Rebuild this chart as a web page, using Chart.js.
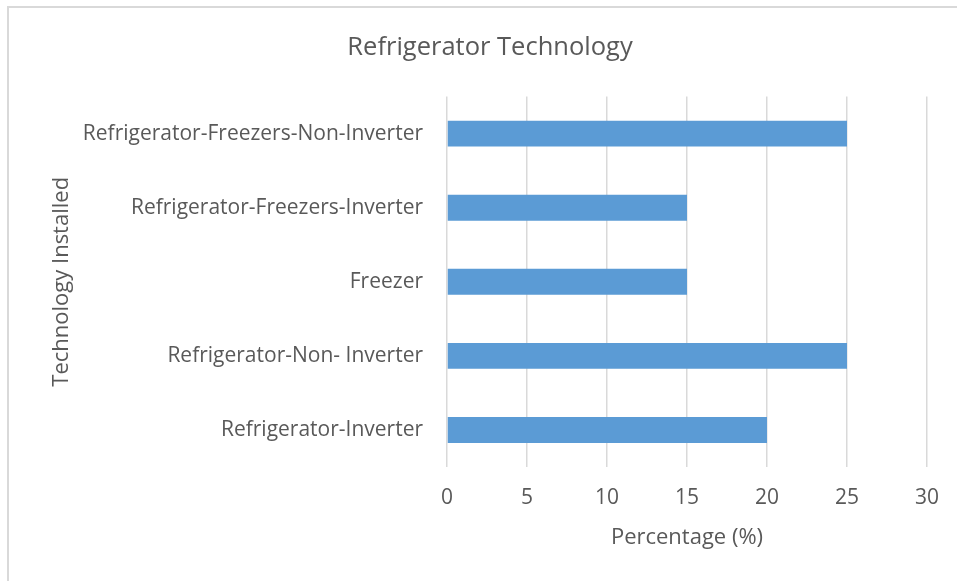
<!DOCTYPE html>
<html>
<head>
<meta charset="utf-8">
<script src="https://cdn.jsdelivr.net/npm/chart.js@4"></script>
<style>
  html, body { margin: 0; padding: 0; background: #fff; overflow: hidden; }
  #frame { position: absolute; left: 7px; top: 6px; width: 970px; height: 600px; border: 2px solid #d9d9d9; }
  #wrap { position: absolute; left: 0; top: 0; width: 957px; height: 581px; }
</style>
</head>
<body>
<div id="frame"></div>
<div id="wrap"><canvas id="myChart"></canvas></div>
<script>
// data
const categories = [
  'Refrigerator-Freezers-Non-Inverter',
  'Refrigerator-Freezers-Inverter',
  'Freezer',
  'Refrigerator-Non- Inverter',
  'Refrigerator-Inverter'
];
const percentages = [25, 15, 15, 25, 20];
const xTicks = [0, 5, 10, 15, 20, 25, 30];

const textColor = '#595959';
const fontFamily = '"Open Sans", sans-serif';

const ctx = document.getElementById('myChart');
const myChart = new Chart(ctx, {
  type: 'bar',
  data: {
    labels: categories,
    datasets: [{
      label: 'Percentage',
      data: percentages,
      backgroundColor: '#5b9bd5',
      borderWidth: 0,
      barPercentage: 1,
      categoryPercentage: 0.35
    }]
  },
  options: {
    indexAxis: 'y',
    responsive: true,
    maintainAspectRatio: false,
    animation: false,
    layout: { padding: { left: 49, right: 26, top: 0, bottom: 0 } },
    plugins: {
      legend: { display: false },
      tooltip: { enabled: false },
      title: {
        display: true,
        text: 'Refrigerator Technology',
        color: textColor,
        font: { family: fontFamily, size: 25.5, weight: 'normal' },
        padding: { top: 32, bottom: 34 }
      }
    },
    scales: {
      x: {
        min: xTicks[0],
        max: xTicks[xTicks.length - 1],
        afterBuildTicks: (scale) => { scale.ticks = xTicks.map(v => ({ value: v })); },
        afterFit: (scale) => { scale.height = 114; },
        grid: { color: '#d9d9d9', lineWidth: 1.5, drawTicks: false },
        border: { display: false },
        ticks: { color: textColor, padding: 18, font: { family: fontFamily, size: 21 } },
        title: {
          display: true,
          text: 'Percentage (%)',
          color: textColor,
          font: { family: fontFamily, size: 22 },
          padding: { top: 0, bottom: 30 }
        }
      },
      y: {
        afterFit: (scale) => { scale.width = 398; },
        grid: { display: false, drawTicks: false },
        border: { display: false },
        ticks: { color: textColor, padding: 24, font: { family: fontFamily, size: 21 } },
        title: {
          display: true,
          text: 'Technology Installed',
          color: textColor,
          font: { family: fontFamily, size: 22 },
          padding: { top: 0, bottom: 0 }
        }
      }
    }
  }
});
</script>
</body>
</html>
